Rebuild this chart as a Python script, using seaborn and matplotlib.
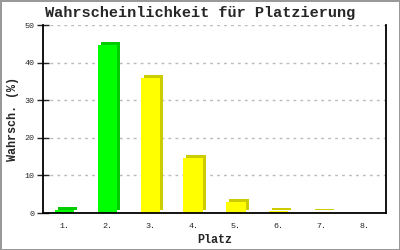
import matplotlib
matplotlib.use("Agg")
import matplotlib.pyplot as plt
import matplotlib.transforms as mtransforms
import seaborn as sns
import pandas as pd

places = ["1.", "2.", "3.", "4.", "5.", "6.", "7.", "8."]
probs = [0.9, 44.8, 36.0, 14.7, 2.9, 0.4, 0.2, 0.0]
front_colors = ["#00ff00", "#00ff00", "#ffff00", "#ffff00", "#ffff00", "#ffff00", "#ffff00", "#ffff00"]
side_colors = ["#00cc00", "#00cc00", "#cccc00", "#cccc00", "#cccc00", "#cccc00", "#cccc00", "#cccc00"]

sns.set_style("white")
plt.rcParams["font.family"] = ["Liberation Mono", "DejaVu Sans Mono"]

df = pd.DataFrame({"Platz": places, "p": probs})

fig = plt.figure(figsize=(4, 2.5), dpi=100)
fig.patch.set_edgecolor("#999999")
fig.patch.set_linewidth(2)
ax = fig.add_axes([0.1075, 0.148, 0.8575, 0.752])

# depth (side/top) bars, shifted up-right
sns.barplot(data=df, x="Platz", y="p", hue="Platz", palette=side_colors,
            width=0.45, legend=False, ax=ax, saturation=1)
n_back = len(ax.patches)
shift = mtransforms.offset_copy(ax.transData, fig=fig, x=3, y=3, units="dots")
for p in ax.patches[:n_back]:
    p.set_transform(shift)
    p.set_linewidth(0)
# front bars
sns.barplot(data=df, x="Platz", y="p", hue="Platz", palette=front_colors,
            width=0.45, legend=False, ax=ax, saturation=1)
for p in ax.patches[n_back:]:
    p.set_linewidth(0)

ax.set_ylim(0, 50)
ax.set_xlim(-0.5, 7.5)
ax.set_yticks([0, 10, 20, 30, 40, 50])
ax.yaxis.grid(True, linestyle=(0, (2, 3)), color="#bbbbbb", linewidth=1)
ax.set_axisbelow(True)
for s in ["left", "bottom", "right"]:
    ax.spines[s].set_visible(True)
    ax.spines[s].set_color("black")
    ax.spines[s].set_linewidth(1.3)
ax.spines["top"].set_visible(False)
ax.tick_params(axis="y", direction="inout", length=8, width=1, labelsize=6, pad=2, left=True)
ax.tick_params(axis="x", length=0, labelsize=6, pad=7)

ax.set_xlabel("Platz", fontsize=8.5, fontweight="bold", labelpad=3)
ax.set_ylabel("Wahrsch. (%)", fontsize=8.5, fontweight="bold", labelpad=4)
fig.suptitle("Wahrscheinlichkeit für Platzierung", fontsize=11, fontweight="bold", y=0.975)

fig.savefig("out.png", dpi=100)
